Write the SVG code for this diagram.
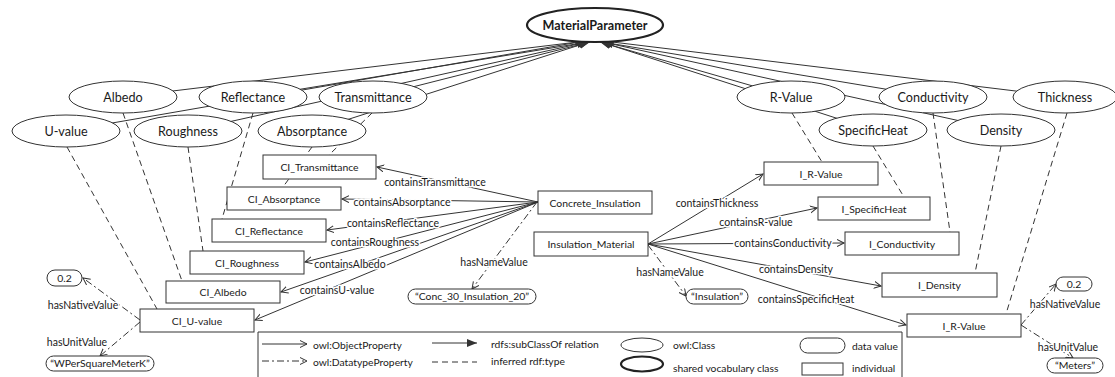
<svg xmlns="http://www.w3.org/2000/svg" width="1115" height="377" viewBox="0 0 1115 377">
  <defs>
    <marker id="tri" markerUnits="userSpaceOnUse" markerWidth="12" markerHeight="10" refX="10" refY="4" orient="auto">
      <path d="M0,0 L10,4 L0,8 Z" fill="#333"/>
    </marker>
    <marker id="open" markerUnits="userSpaceOnUse" markerWidth="10" markerHeight="10" refX="7" refY="4" orient="auto">
      <path d="M0,0.5 L7,4 L0,7.5" fill="none" stroke="#333" stroke-width="1"/>
    </marker>
    <style>
      text { font-family: Lato, "Liberation Sans", sans-serif; fill: #1a1a1a; }
      .cls ellipse { fill: #fff; stroke: #333; stroke-width: 1; }
      .cls text { font-size: 12.6px; text-anchor: middle; }
      .shared ellipse { fill: #fff; stroke: #222; stroke-width: 2.2; }
      .shared text { font-size: 12.6px; font-weight: bold; text-anchor: middle; }
      .ind rect { fill: #fff; stroke: #333; stroke-width: 1; }
      .ind text { font-size: 10.4px; text-anchor: middle; }
      .val rect { fill: #fff; stroke: #333; stroke-width: 1; }
      .val text { font-size: 10.4px; text-anchor: middle; }
      .sub { stroke: #333; stroke-width: 1; fill: none; marker-end: url(#tri); }
      .type { stroke: #333; stroke-width: 1; fill: none; stroke-dasharray: 6 4; }
      .obj { stroke: #333; stroke-width: 1; fill: none; marker-end: url(#open); }
      .dt { stroke: #333; stroke-width: 1; fill: none; stroke-dasharray: 7 3 2 3; marker-end: url(#open); }
      .lbl { font-size: 10.5px; text-anchor: middle; stroke: #fff; stroke-width: 3px; paint-order: stroke; stroke-linejoin: round; }
      .leg { font-size: 10.3px; }
    </style>
  </defs>

  <!-- subclass relations to the shared vocabulary class (drawn beneath the class ellipses) -->
  <g id="subclass-edges">
    <line class="sub" x1="66" y1="131" x2="585" y2="41"/>
    <line class="sub" x1="123" y1="97" x2="586" y2="41"/>
    <line class="sub" x1="188" y1="131" x2="587" y2="42"/>
    <line class="sub" x1="253" y1="97" x2="588" y2="42"/>
    <line class="sub" x1="312" y1="131" x2="589" y2="42"/>
    <line class="sub" x1="373" y1="97" x2="590" y2="42"/>
    <line class="sub" x1="791" y1="97" x2="600" y2="42"/>
    <line class="sub" x1="873" y1="130" x2="601" y2="42"/>
    <line class="sub" x1="933" y1="97" x2="602" y2="42"/>
    <line class="sub" x1="1001" y1="130" x2="603" y2="42"/>
    <line class="sub" x1="1065" y1="97" x2="604" y2="41"/>
  </g>

  <!-- inferred rdf:type links from classes to individuals -->
  <g id="type-edges">
    <line class="type" x1="67" y1="147" x2="157" y2="309"/>
    <line class="type" x1="123" y1="113" x2="182" y2="281"/>
    <line class="type" x1="188" y1="147" x2="203" y2="251"/>
    <line class="type" x1="253" y1="113" x2="222" y2="219"/>
    <line class="type" x1="372" y1="113" x2="329" y2="155"/>
    <line class="type" x1="312" y1="147" x2="283" y2="187"/>
    <line class="type" x1="792" y1="113" x2="822" y2="162"/>
    <line class="type" x1="873" y1="146" x2="904" y2="197"/>
    <line class="type" x1="933" y1="113" x2="950" y2="232"/>
    <line class="type" x1="1001" y1="146" x2="975" y2="273"/>
    <line class="type" x1="1067" y1="113" x2="1006" y2="314"/>
  </g>

  <!-- class nodes -->
  <g id="MaterialParameter" class="shared"><ellipse cx="595" cy="25" rx="68" ry="17"/><text x="595" y="29.5">MaterialParameter</text></g>
  <g id="Albedo" class="cls"><ellipse cx="123" cy="97" rx="54" ry="16"/><text x="123" y="101.5">Albedo</text></g>
  <g id="Reflectance" class="cls"><ellipse cx="253" cy="97" rx="54" ry="16"/><text x="253" y="101.5">Reflectance</text></g>
  <g id="Transmittance" class="cls"><ellipse cx="373" cy="97" rx="54" ry="16"/><text x="373" y="101.5">Transmittance</text></g>
  <g id="R-Value" class="cls"><ellipse cx="791" cy="97" rx="54" ry="16"/><text x="791" y="101.5">R-Value</text></g>
  <g id="Conductivity" class="cls"><ellipse cx="933" cy="97" rx="54" ry="16"/><text x="933" y="101.5">Conductivity</text></g>
  <g id="Thickness" class="cls"><ellipse cx="1065" cy="97" rx="52" ry="16"/><text x="1065" y="101.5">Thickness</text></g>
  <g id="U-value" class="cls"><ellipse cx="66" cy="131" rx="54" ry="16"/><text x="66" y="135.5">U-value</text></g>
  <g id="Roughness" class="cls"><ellipse cx="188" cy="131" rx="54" ry="16"/><text x="188" y="135.5">Roughness</text></g>
  <g id="Absorptance" class="cls"><ellipse cx="312" cy="131" rx="54" ry="16"/><text x="312" y="135.5">Absorptance</text></g>
  <g id="SpecificHeat" class="cls"><ellipse cx="873" cy="130" rx="54" ry="16"/><text x="873" y="134.5">SpecificHeat</text></g>
  <g id="Density" class="cls"><ellipse cx="1001" cy="130" rx="54" ry="16"/><text x="1001" y="134.5">Density</text></g>

  <!-- object and datatype properties -->
  <g id="property-edges">
    <line class="obj" x1="538" y1="202" x2="377" y2="167"/>
    <line class="obj" x1="538" y1="202" x2="342" y2="199"/>
    <line class="obj" x1="538" y1="202" x2="327" y2="230"/>
    <line class="obj" x1="538" y1="202" x2="305" y2="262"/>
    <line class="obj" x1="538" y1="202" x2="281" y2="292"/>
    <line class="obj" x1="538" y1="202" x2="255" y2="320"/>
    <line class="obj" x1="648" y1="244" x2="763" y2="174"/>
    <line class="obj" x1="648" y1="244" x2="817" y2="208"/>
    <line class="obj" x1="648" y1="244" x2="844" y2="243"/>
    <line class="obj" x1="648" y1="244" x2="881" y2="286"/>
    <line class="obj" x1="648" y1="244" x2="906" y2="325"/>
    <line class="dt" x1="140" y1="320" x2="83" y2="278"/>
    <line class="dt" x1="140" y1="322" x2="100" y2="356"/>
    <line class="dt" x1="537" y1="202" x2="472" y2="289"/>
    <line class="dt" x1="648" y1="245" x2="686" y2="296"/>
    <line class="dt" x1="1021" y1="325" x2="1056" y2="284"/>
    <line class="dt" x1="1021" y1="325" x2="1073" y2="358"/>
    <text class="lbl" x="435" y="186">containsTransmittance</text>
    <text class="lbl" x="402" y="206">containsAbsorptance</text>
    <text class="lbl" x="393" y="227">containsReflectance</text>
    <text class="lbl" x="375" y="246">containsRoughness</text>
    <text class="lbl" x="350" y="268">containsAlbedo</text>
    <text class="lbl" x="337" y="294">containsU-value</text>
    <text class="lbl" x="83" y="309">hasNativeValue</text>
    <text class="lbl" x="77" y="346">hasUnitValue</text>
    <text class="lbl" x="494" y="266">hasNameValue</text>
    <text class="lbl" x="670" y="276">hasNameValue</text>
    <text class="lbl" x="717" y="207">containsThickness</text>
    <text class="lbl" x="756" y="226">containsR-value</text>
    <text class="lbl" x="783" y="247">containsConductivity</text>
    <text class="lbl" x="796" y="273">containsDensity</text>
    <text class="lbl" x="806" y="303">containsSpecificHeat</text>
    <text class="lbl" x="1065" y="308">hasNativeValue</text>
    <text class="lbl" x="1068" y="351">hasUnitValue</text>
  </g>

  <!-- individuals -->
  <g id="CI_Transmittance" class="ind"><rect x="263" y="155" width="113" height="24"/><text x="319.5" y="171">CI_Transmittance</text></g>
  <g id="CI_Absorptance" class="ind"><rect x="227" y="187" width="114" height="23"/><text x="284" y="202.5">CI_Absorptance</text></g>
  <g id="CI_Reflectance" class="ind"><rect x="212" y="219" width="114" height="23"/><text x="269" y="234.5">CI_Reflectance</text></g>
  <g id="CI_Roughness" class="ind"><rect x="190" y="251" width="114" height="23"/><text x="247" y="266.5">CI_Roughness</text></g>
  <g id="CI_Albedo" class="ind"><rect x="166" y="281" width="114" height="22"/><text x="223" y="296">CI_Albedo</text></g>
  <g id="CI_U-value" class="ind"><rect x="140" y="309" width="114" height="23"/><text x="197" y="324.5">CI_U-value</text></g>
  <g id="Concrete_Insulation" class="ind"><rect x="538" y="191" width="114" height="23"/><text x="595" y="206.5">Concrete_Insulation</text></g>
  <g id="Insulation_Material" class="ind"><rect x="534" y="232" width="114" height="24"/><text x="591" y="248">Insulation_Material</text></g>
  <g id="I_R-Value" class="ind"><rect x="764" y="162" width="114" height="23"/><text x="821" y="177.5">I_R-Value</text></g>
  <g id="I_SpecificHeat" class="ind"><rect x="818" y="197" width="112" height="23"/><text x="874" y="212.5">I_SpecificHeat</text></g>
  <g id="I_Conductivity" class="ind"><rect x="845" y="232" width="114" height="23"/><text x="902" y="247.5">I_Conductivity</text></g>
  <g id="I_Density" class="ind"><rect x="882" y="273" width="115" height="24"/><text x="939.5" y="289">I_Density</text></g>
  <g id="I_R-Value-2" class="ind"><rect x="907" y="314" width="114" height="23"/><text x="964" y="329.5">I_R-Value</text></g>

  <!-- data values -->
  <g id="val-0.2-left" class="val"><rect x="47" y="270" width="35" height="16" rx="8"/><text x="64.5" y="281.5">0.2</text></g>
  <g id="val-WPerSquareMeterK" class="val"><rect x="46" y="356" width="108" height="15" rx="7.5"/><text x="100" y="367">“WPerSquareMeterK”</text></g>
  <g id="val-Conc_30_Insulation_20" class="val"><rect x="408" y="289" width="128" height="15" rx="7.5"/><text x="472" y="300">“Conc_30_Insulation_20”</text></g>
  <g id="val-Insulation" class="val"><rect x="686" y="289" width="62" height="15" rx="7.5"/><text x="717" y="300">“Insulation”</text></g>
  <g id="val-0.2-right" class="val"><rect x="1056" y="277" width="36" height="14" rx="7"/><text x="1074" y="287.5">0.2</text></g>
  <g id="val-Meters" class="val"><rect x="1047" y="358" width="56" height="15" rx="7.5"/><text x="1075" y="369">“Meters”</text></g>

  <!-- legend -->
  <g id="legend">
    <path d="M258,380 V332 H902 V380" fill="#fff" stroke="#333" stroke-width="1"/>
    <line class="obj" x1="262" y1="344" x2="307" y2="344"/>
    <text class="leg" x="313" y="349">owl:ObjectProperty</text>
    <line class="dt" x1="262" y1="361" x2="307" y2="361"/>
    <text class="leg" x="313" y="366">owl:DatatypeProperty</text>
    <line class="sub" x1="432" y1="343" x2="477" y2="343"/>
    <text class="leg" x="491" y="348">rdfs:subClassOf relation</text>
    <line class="type" x1="432" y1="362" x2="477" y2="362"/>
    <text class="leg" x="491" y="365">inferred rdf:type</text>
    <ellipse cx="642" cy="345" rx="21" ry="7" fill="#fff" stroke="#333" stroke-width="1"/>
    <text class="leg" x="673" y="349">owl:Class</text>
    <ellipse cx="642" cy="364" rx="21" ry="7.5" fill="#fff" stroke="#222" stroke-width="2.2"/>
    <text class="leg" x="673" y="372">shared vocabulary class</text>
    <rect x="800" y="338" width="45" height="15" rx="7.5" fill="#fff" stroke="#333" stroke-width="1"/>
    <text class="leg" x="852" y="350">data value</text>
    <rect x="802" y="363" width="41" height="12" fill="#fff" stroke="#333" stroke-width="1"/>
    <text class="leg" x="852" y="372">individual</text>
  </g>
</svg>
